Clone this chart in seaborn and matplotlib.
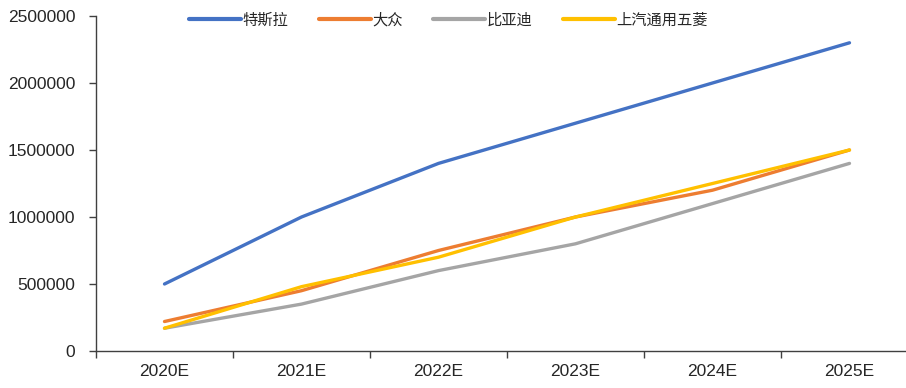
import matplotlib
matplotlib.use("Agg")
import matplotlib.pyplot as plt
import seaborn as sns
import pandas as pd
from matplotlib.ticker import FixedLocator, FuncFormatter

years = ["2020E", "2021E", "2022E", "2023E", "2024E", "2025E"]
brands = ["特斯拉", "大众", "比亚迪", "上汽通用五菱"]
tesla = [500000, 1000000, 1400000, 1700000, 2000000, 2300000]
vw = [220000, 450000, 750000, 1000000, 1200000, 1500000]
byd = [170000, 350000, 600000, 800000, 1100000, 1400000]
sgmw = [170000, 480000, 700000, 1000000, 1250000, 1500000]
colors = ["#4472C4", "#ED7D31", "#A5A5A5", "#FFC000"]
yticks = [0, 500000, 1000000, 1500000, 2000000, 2500000]

series = [tesla, vw, byd, sgmw]
rows = []
for b, vals in zip(brands, series):
    for i, (y, v) in enumerate(zip(years, vals)):
        rows.append({"year": y, "pos": i, "brand": b, "value": v})
df = pd.DataFrame(rows)

sns.set_theme(style="white")
plt.rcParams["font.family"] = ["Liberation Sans", "DejaVu Sans"]

fig = plt.figure(figsize=(9.06, 3.88), dpi=100)
ax = fig.add_axes([96 / 906, 1 - 351 / 388, 822 / 906, 335 / 388])

sns.lineplot(data=df, x="pos", y="value", hue="brand", hue_order=brands,
             palette=colors, linewidth=2.4, ax=ax, sort=True, legend=False)

ax.set_xlim(-0.5, 5.5)
ax.set_ylim(0, 2500000)
ax.set_xlabel("")
ax.set_ylabel("")

ax.xaxis.set_major_locator(FixedLocator(range(len(years))))
ax.set_xticklabels(years)
ax.xaxis.set_minor_locator(FixedLocator([i - 0.5 for i in range(len(years) + 1)]))
ax.tick_params(axis="x", which="major", length=0, pad=9, labelsize=12.5, labelcolor="#262626")
ax.tick_params(axis="x", which="minor", length=5, width=1, color="#404040", direction="out", bottom=True)
ax.set_yticks(yticks)
ax.yaxis.set_major_formatter(FuncFormatter(lambda v, p: f"{int(v)}"))
ax.tick_params(axis="y", length=5, width=1, color="#404040", direction="out", left=True,
               pad=10, labelsize=12.5, labelcolor="#262626")

for s in ["top", "right"]:
    ax.spines[s].set_visible(False)
for s in ["left", "bottom"]:
    ax.spines[s].set_color("#404040")
    ax.spines[s].set_linewidth(1)

from matplotlib.lines import Line2D
handles = [Line2D([], [], color=c, linewidth=3) for c in colors]
leg = ax.legend(handles, brands, loc="center", bbox_to_anchor=(0.429, 0.988), ncol=4,
                frameon=False, handlelength=3.4, handletextpad=0.1, columnspacing=2.0,
                prop={"family": ["Noto Sans CJK SC", "DejaVu Sans"], "size": 11})
for t in leg.get_texts():
    t.set_color("#262626")

fig.savefig("out.png", dpi=100)
